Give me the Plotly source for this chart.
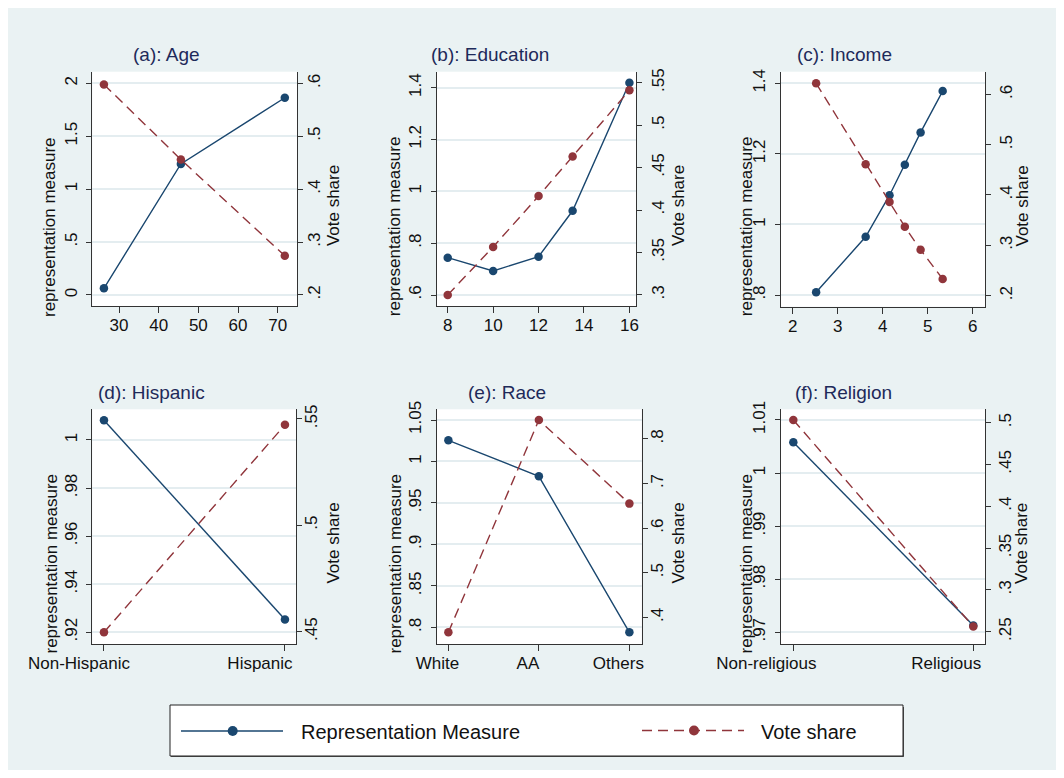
import plotly.graph_objects as go

# ---------------- data ----------------
age_x = [26.2, 45.6, 71.8]
age_rep = [0.063, 1.238, 1.864]
age_vote = [0.598, 0.456, 0.274]

edu_x = [8, 10, 12, 13.5, 16]
edu_rep = [0.744, 0.693, 0.748, 0.925, 1.419]
edu_vote = [0.300, 0.3565, 0.4165, 0.463, 0.541]

inc_x = [2.52, 3.62, 4.15, 4.49, 4.84, 5.33]
inc_rep = [0.808, 0.965, 1.083, 1.169, 1.261, 1.378]
inc_vote = [0.622, 0.461, 0.386, 0.337, 0.291, 0.233]

hisp_cats = ["Non-Hispanic", "Hispanic"]
hisp_rep = [1.0082, 0.9253]
hisp_vote = [0.4497, 0.5472]

race_cats = ["White", "AA", "Others"]
race_rep = [1.0255, 0.9821, 0.794]
race_vote = [0.3664, 0.8426, 0.655]

rel_cats = ["Non-religious", "Religious"]
rel_rep = [1.0058, 0.9713]
rel_vote = [0.5032, 0.256]

titles = ["(a): Age", "(b): Education", "(c): Income",
          "(d): Hispanic", "(e): Race", "(f): Religion"]
left_title = "representation measure"
right_title = "Vote share"
legend_labels = ["Representation Measure", "Vote share"]

# ---------------- styling / layout ----------------
W, H, OFF = 1050, 762, 8
BG = "rgb(234,242,243)"
GRID = "rgb(228,237,240)"
NAVY = "rgb(26,71,111)"
MAROON = "rgb(144,53,59)"
AXC = "#333333"
FONT = "Liberation Sans, Arial, sans-serif"
TITLEC = "rgb(30,42,90)"


def fx(px):
    return (px - OFF) / W


def fy(py):
    return 1 - (py - OFF) / H


def fmt(v):
    s = ("%g" % v)
    if s.startswith("0."):
        s = s[1:]
    return s


panels = [
    dict(x=age_x, rep=age_rep, vote=age_vote, cats=None,
         box=(92.3, 297, 71.7, 306), xr=[23.27, 74.87],
         xt=[30, 40, 50, 60, 70], yl=[-0.104, 2.110], ylt=[0, 0.5, 1, 1.5, 2],
         yr=[0.1792, 0.622], yrt=[0.2, 0.3, 0.4, 0.5, 0.6],
         tc=(166, 54), lt=(49.5, 227.5), rt=(333.3, 205.8),
         rso=-3, xshift=0),
    dict(x=edu_x, rep=edu_rep, vote=edu_vote, cats=None,
         box=(436.7, 636, 71.7, 306), xr=[7.515, 16.29],
         xt=[8, 10, 12, 14, 16], yl=[0.5576, 1.4617], ylt=[0.6, 0.8, 1, 1.2, 1.4],
         yr=[0.287, 0.5629], yrt=[0.3, 0.35, 0.4, 0.45, 0.5, 0.55],
         tc=(490, 54), lt=(394.5, 226.7), rt=(678.3, 205.8),
         rso=2, xshift=0),
    dict(x=inc_x, rep=inc_rep, vote=inc_vote, cats=None,
         box=(781, 985, 71.7, 306.7), xr=[1.74, 6.27],
         xt=[2, 3, 4, 5, 6], yl=[0.767, 1.433], ylt=[0.8, 1, 1.2, 1.4],
         yr=[0.178, 0.645], yrt=[0.2, 0.3, 0.4, 0.5, 0.6],
         tc=(844, 54), lt=(746.5, 226.7), rt=(1022.7, 205.8),
         rso=1, xshift=0),
    dict(x=None, rep=hisp_rep, vote=hisp_vote, cats=hisp_cats,
         box=(92.3, 296, 409.3, 644), xr=[-0.0645, 1.061],
         xt=None, yl=[0.9151, 1.01276], ylt=[0.92, 0.94, 0.96, 0.98, 1],
         yr=[0.4442, 0.5545], yrt=[0.45, 0.5, 0.55],
         tc=(151.7, 392), lt=(50.5, 564), rt=(333.3, 543.3),
         rso=-5, xshift=-25),
    dict(x=None, rep=race_rep, vote=race_vote, cats=race_cats,
         box=(436.7, 641.7, 409.3, 644), xr=[-0.129, 2.136],
         xt=None, yl=[0.7799, 1.0629], ylt=[0.8, 0.85, 0.9, 0.95, 1, 1.05],
         yr=[0.3402, 0.8665], yrt=[0.4, 0.5, 0.6, 0.7, 0.8],
         tc=(506.7, 392), lt=(394.5, 564), rt=(678.3, 543.3),
         rso=-5, xshift=-11),
    dict(x=None, rep=rel_rep, vote=rel_vote, cats=rel_cats,
         box=(781, 985, 409.3, 644), xr=[-0.0685, 1.065],
         xt=None, yl=[0.9678, 1.012], ylt=[0.97, 0.98, 0.99, 1, 1.01],
         yr=[0.2352, 0.516], yrt=[0.25, 0.3, 0.35, 0.4, 0.45, 0.5],
         tc=(843.8, 392), lt=(745.5, 564), rt=(1021.7, 543.3),
         rso=0, xshift=-27),
]

fig = go.Figure()
layout = {}
annotations = []
tickfont = dict(family=FONT, size=17, color="#111111")

for i, p in enumerate(panels):
    k = i + 1
    xref = "x" if k == 1 else f"x{k}"
    xname = "xaxis" if k == 1 else f"xaxis{k}"
    il, ir = 2 * k - 1, 2 * k
    ylref = "y" if il == 1 else f"y{il}"
    ylname = "yaxis" if il == 1 else f"yaxis{il}"
    yrref = f"y{ir}"
    yrname = f"yaxis{ir}"

    if p["cats"] is not None:
        xs = list(range(len(p["cats"])))
        tickvals = xs
        ticktext = p["cats"]
    else:
        xs = p["x"]
        tickvals = p["xt"]
        ticktext = [fmt(v) for v in p["xt"]]

    fig.add_trace(go.Scatter(
        x=xs, y=p["rep"], xaxis=xref, yaxis=ylref, mode="lines+markers",
        line=dict(color=NAVY, width=1.4), marker=dict(color=NAVY, size=8.5),
        showlegend=False, name=legend_labels[0]))
    fig.add_trace(go.Scatter(
        x=xs, y=p["vote"], xaxis=xref, yaxis=yrref, mode="lines+markers",
        line=dict(color=MAROON, width=1.4, dash="10px,6px"),
        marker=dict(color=MAROON, size=8.5),
        showlegend=False, name=legend_labels[1]))

    x0, x1, y0, y1 = p["box"]
    layout[xname] = dict(
        domain=[fx(x0), fx(x1)], anchor=ylref, range=p["xr"],
        tickmode="array", tickvals=tickvals, ticktext=ticktext,
        showline=True, linecolor=AXC, linewidth=1, mirror=False,
        ticks="outside", ticklen=6, tickcolor=AXC, tickwidth=1,
        showgrid=False, zeroline=False, tickfont=tickfont,
        ticklabelstandoff=-2, ticklabelshift=p["xshift"],
        automargin=False, fixedrange=True)
    layout[ylname] = dict(
        domain=[fy(y1), fy(y0)], anchor=xref, range=p["yl"],
        tickmode="array", tickvals=p["ylt"], ticktext=[fmt(v) for v in p["ylt"]],
        tickangle=-90, showline=True, linecolor=AXC, linewidth=1,
        ticks="outside", ticklen=5, tickcolor=AXC, tickwidth=1,
        showgrid=True, gridcolor=GRID, gridwidth=1.5, zeroline=False,
        tickfont=tickfont, ticklabelstandoff=3, automargin=False,
        fixedrange=True)
    layout[yrname] = dict(
        overlaying=ylref, side="right", anchor=xref, range=p["yr"],
        tickmode="array", tickvals=p["yrt"], ticktext=[fmt(v) for v in p["yrt"]],
        tickangle=-90, showline=True, linecolor=AXC, linewidth=1,
        ticks="outside", ticklen=5, tickcolor=AXC, tickwidth=1,
        showgrid=False, zeroline=False, tickfont=tickfont,
        ticklabelstandoff=p["rso"], automargin=False, fixedrange=True)

    annotations.append(dict(
        text=titles[i], x=fx(p["tc"][0]), y=fy(p["tc"][1]), xref="paper",
        yref="paper", xanchor="center", yanchor="middle", showarrow=False,
        font=dict(family=FONT, size=19, color=TITLEC)))
    annotations.append(dict(
        text=left_title, x=fx(p["lt"][0]), y=fy(p["lt"][1]), xref="paper",
        yref="paper", xanchor="center", yanchor="middle", showarrow=False,
        textangle=-90, font=dict(family=FONT, size=17, color="#111111")))
    annotations.append(dict(
        text=right_title, x=fx(p["rt"][0]), y=fy(p["rt"][1]), xref="paper",
        yref="paper", xanchor="center", yanchor="middle", showarrow=False,
        textangle=-90, font=dict(family=FONT, size=17, color="#111111")))

# ---------------- legend (drawn) ----------------
shapes = []
shapes.append(dict(type="rect", xref="paper", yref="paper",
                   x0=fx(171), x1=fx(904), y0=fy(757), y1=fy(707),
                   line=dict(color="#444444", width=0), fillcolor="#555555",
                   layer="above"))
shapes.append(dict(type="rect", xref="paper", yref="paper",
                   x0=fx(170), x1=fx(903), y0=fy(756), y1=fy(705),
                   line=dict(color="#222222", width=1), fillcolor="white",
                   layer="above"))
shapes.append(dict(type="line", xref="paper", yref="paper",
                   x0=fx(181), x1=fx(283), y0=fy(731), y1=fy(731),
                   line=dict(color=NAVY, width=1.6), layer="above"))
shapes.append(dict(type="line", xref="paper", yref="paper",
                   x0=fx(642), x1=fx(744), y0=fy(730.5), y1=fy(730.5),
                   line=dict(color=MAROON, width=1.6, dash="10px,6px"),
                   layer="above"))
for cx, cy, col in [(232.7, 731, NAVY), (694, 730.5, MAROON)]:
    shapes.append(dict(type="circle", xref="paper", yref="paper",
                       xsizemode="pixel", ysizemode="pixel",
                       xanchor=fx(cx), yanchor=fy(cy),
                       x0=-5, x1=5, y0=-5, y1=5,
                       fillcolor=col, line=dict(color=col, width=0),
                       layer="above"))

annotations.append(dict(
    text=legend_labels[0], x=fx(299), y=fy(731.5), xref="paper", yref="paper",
    xanchor="left", yanchor="middle", showarrow=False,
    font=dict(family=FONT, size=20, color="#111111")))
annotations.append(dict(
    text=legend_labels[1], x=fx(759), y=fy(731.5), xref="paper", yref="paper",
    xanchor="left", yanchor="middle", showarrow=False,
    font=dict(family=FONT, size=20, color="#111111")))

fig.update_layout(
    width=W, height=H, margin=dict(l=0, r=0, t=0, b=0, autoexpand=False),
    paper_bgcolor=BG, plot_bgcolor="white",
    font=dict(family=FONT, color="#111111"),
    showlegend=False, annotations=annotations, shapes=shapes,
    **layout)

fig.write_html("out.html")
